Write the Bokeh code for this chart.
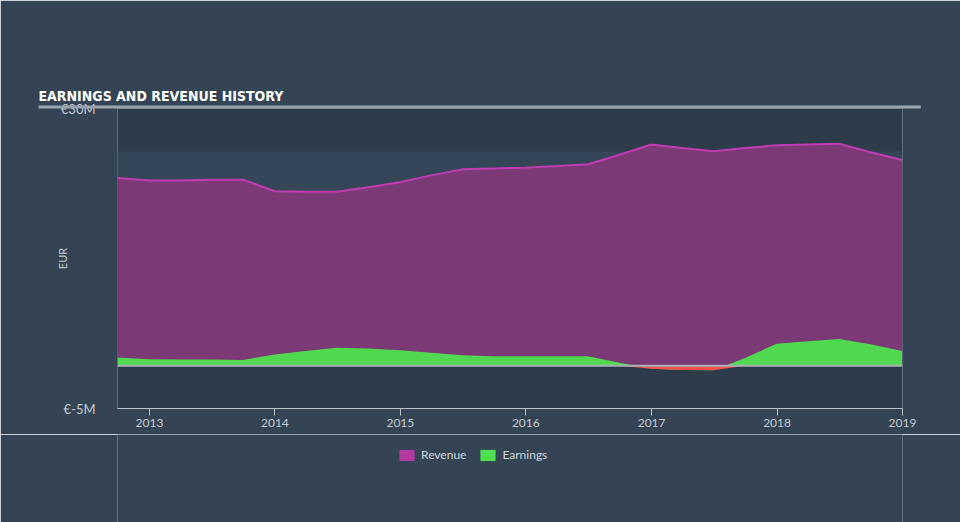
import numpy as np
import pandas as pd
from datetime import datetime
from bokeh.plotting import figure
from bokeh.layouts import column
from bokeh.models import (Range1d, FixedTicker, PrintfTickFormatter, DatetimeTickFormatter,
                          BoxAnnotation, Span, Legend, LegendItem, Title)
from bokeh.embed import file_html
from bokeh.resources import INLINE

# ---- data (EUR millions, quarterly) ----
dates = ["2012-09-30", "2012-12-31", "2013-03-31", "2013-06-30", "2013-09-30", "2013-12-31",
         "2014-03-31", "2014-06-30", "2014-09-30", "2014-12-31", "2015-03-31", "2015-06-30",
         "2015-09-30", "2015-12-31", "2016-03-31", "2016-06-30", "2016-09-30", "2016-12-31",
         "2017-03-31", "2017-06-30", "2017-09-30", "2017-12-31", "2018-03-31", "2018-06-30",
         "2018-09-30", "2018-12-31"]
revenue = [21.9, 21.6, 21.6, 21.7, 21.7, 20.35, 20.3, 20.3, 20.8, 21.4, 22.2, 22.9,
           23.0, 23.1, 23.3, 23.5, 24.6, 25.8, 25.4, 25.0, 25.4, 25.7, 25.8, 25.9,
           24.9, 24.0]
earnings = [0.94, 0.75, 0.72, 0.72, 0.65, 1.3, 1.7, 2.1, 2.0, 1.8, 1.5, 1.2,
            1.1, 1.1, 1.1, 1.1, 0.35, -0.35, -0.5, -0.55, 0.9, 2.55, 2.85, 3.1,
            2.5, 1.7]
tick_years = [2013, 2014, 2015, 2016, 2017, 2018, 2019]
y_ticks = [-5, 30]
series_names = ["Revenue", "Earnings"]

x = pd.to_datetime(dates)
earn = np.array(earnings)
loss = np.minimum(earn, 0)

FONT = "Lato"
TXT = "#c4cad1"
BG = "#344454"

p = figure(frame_width=785, frame_height=300, x_axis_type="datetime",
           x_range=Range1d(datetime(2012, 9, 30), datetime(2019, 1, 1)),
           y_range=Range1d(-5, 30),
           output_backend="svg", toolbar_location=None,
           min_border_left=117, min_border_right=58, min_border_top=108, min_border_bottom=26,
           background_fill_color="#2e3b4a", border_fill_color=BG)
p.outline_line_color = None
p.grid.visible = False

band = BoxAnnotation(bottom=0, top=25, fill_color="#354658", fill_alpha=1,
                     line_color=None, level="underlay")
p.add_layout(band)

p.varea(x=x, y1=0, y2=revenue, fill_color="#7b3976", fill_alpha=1)
p.line(x=x, y=revenue, line_color="#c23cb1", line_width=2)
p.varea(x=x, y1=0, y2=earnings, fill_color="#50d850", fill_alpha=1)
p.varea(x=x, y1=0, y2=loss, fill_color="#f2504a", fill_alpha=1)

p.add_layout(Span(location=0, dimension="width", line_color="#a9b0b6", line_width=2))

# axes
ticks_ms = [datetime(yr, 1, 1).timestamp() * 1000 for yr in tick_years]
p.xaxis.ticker = FixedTicker(ticks=ticks_ms)
p.xaxis.formatter = DatetimeTickFormatter(years="%Y", months="%Y", days="%Y", hours="%Y",
                                          hourmin="%Y", minutes="%Y", minsec="%Y",
                                          seconds="%Y", milliseconds="%Y", microseconds="%Y")
p.xaxis.axis_line_color = "#b8c0c8"
p.xaxis.major_tick_line_color = "#b8c0c8"
p.xaxis.major_tick_out = 7
p.xaxis.major_tick_in = 0
p.xaxis.minor_tick_line_color = None
p.xaxis.major_label_text_color = TXT
p.xaxis.major_label_text_font = FONT
p.xaxis.major_label_text_font_size = "12px"
p.xaxis.major_label_standoff = 3

p.yaxis.ticker = FixedTicker(ticks=y_ticks)
p.yaxis.formatter = PrintfTickFormatter(format="€%dM")
p.yaxis.axis_line_color = None
p.yaxis.major_tick_line_color = None
p.yaxis.minor_tick_line_color = None
p.yaxis.major_label_text_color = TXT
p.yaxis.major_label_text_font = FONT
p.yaxis.major_label_text_font_size = "13px"
p.yaxis.major_label_standoff = 16
p.yaxis.axis_label = "EUR"
p.yaxis.axis_label_text_color = TXT
p.yaxis.axis_label_text_font = FONT
p.yaxis.axis_label_text_font_style = "normal"
p.yaxis.axis_label_text_font_size = "11px"
p.yaxis.axis_label_standoff = -11

# title (side panel, outermost)
p.title.text = "EARNINGS AND REVENUE HISTORY"
p.title.align = "left"
p.title.offset = -79
p.title.standoff = 0
p.title.text_font = "DejaVu Sans Condensed"
p.title.text_font_style = "bold"
p.title.text_font_size = "14px"
p.title.text_color = "#ffffff"

# transparent spacer between frame and rule, then the thin rule under the title
spacer = Title(text=" ", align="left", offset=0, standoff=22,
               text_font_size="1px", text_color=BG, text_alpha=0,
               background_fill_alpha=0,
               padding=dict(left=0, right=0, top=1, bottom=0))
p.add_layout(spacer, "above")
rule = Title(text=" ", align="left", offset=-79, standoff=0,
             text_font_size="1px", text_color="#9aa4ae",
             background_fill_color="#9aa4ae", background_fill_alpha=1,
             padding=dict(left=0, right=882, top=2, bottom=0))
p.add_layout(rule, "above")

# legend strip below the chart (frame-only figure; its frame aligns with the chart's)
lg = figure(width=960, height=92, x_range=Range1d(0, 1), y_range=Range1d(0, 1),
            x_axis_location=None, y_axis_location=None, toolbar_location=None,
            output_backend="svg", min_border=0,
            background_fill_color=BG, border_fill_color=BG)
lg.outline_line_color = None
lg.grid.visible = False
nan = float("nan")
r_dummy = lg.quad(left=[nan], right=[nan], top=[nan], bottom=[nan],
                  fill_color="#b13aa3", line_color=None)
e_dummy = lg.quad(left=[nan], right=[nan], top=[nan], bottom=[nan],
                  fill_color="#4fe04f", line_color=None)
legend = Legend(items=[LegendItem(label=series_names[0], renderers=[r_dummy]),
                       LegendItem(label=series_names[1], renderers=[e_dummy])],
                orientation="horizontal", location=(280, 64),
                background_fill_alpha=0, border_line_color=None,
                label_text_color="#d0d5da", label_text_font=FONT, label_text_font_size="12px",
                glyph_width=19, glyph_height=14, spacing=12, label_standoff=5,
                padding=5, margin=0)
lg.add_layout(legend)

layout = column(p, lg, spacing=0)
html = file_html(layout, INLINE)
html = html.replace("<body>", '<body style="margin:0;background-color:#344454;">', 1)
open("out.html", "w").write(html)
